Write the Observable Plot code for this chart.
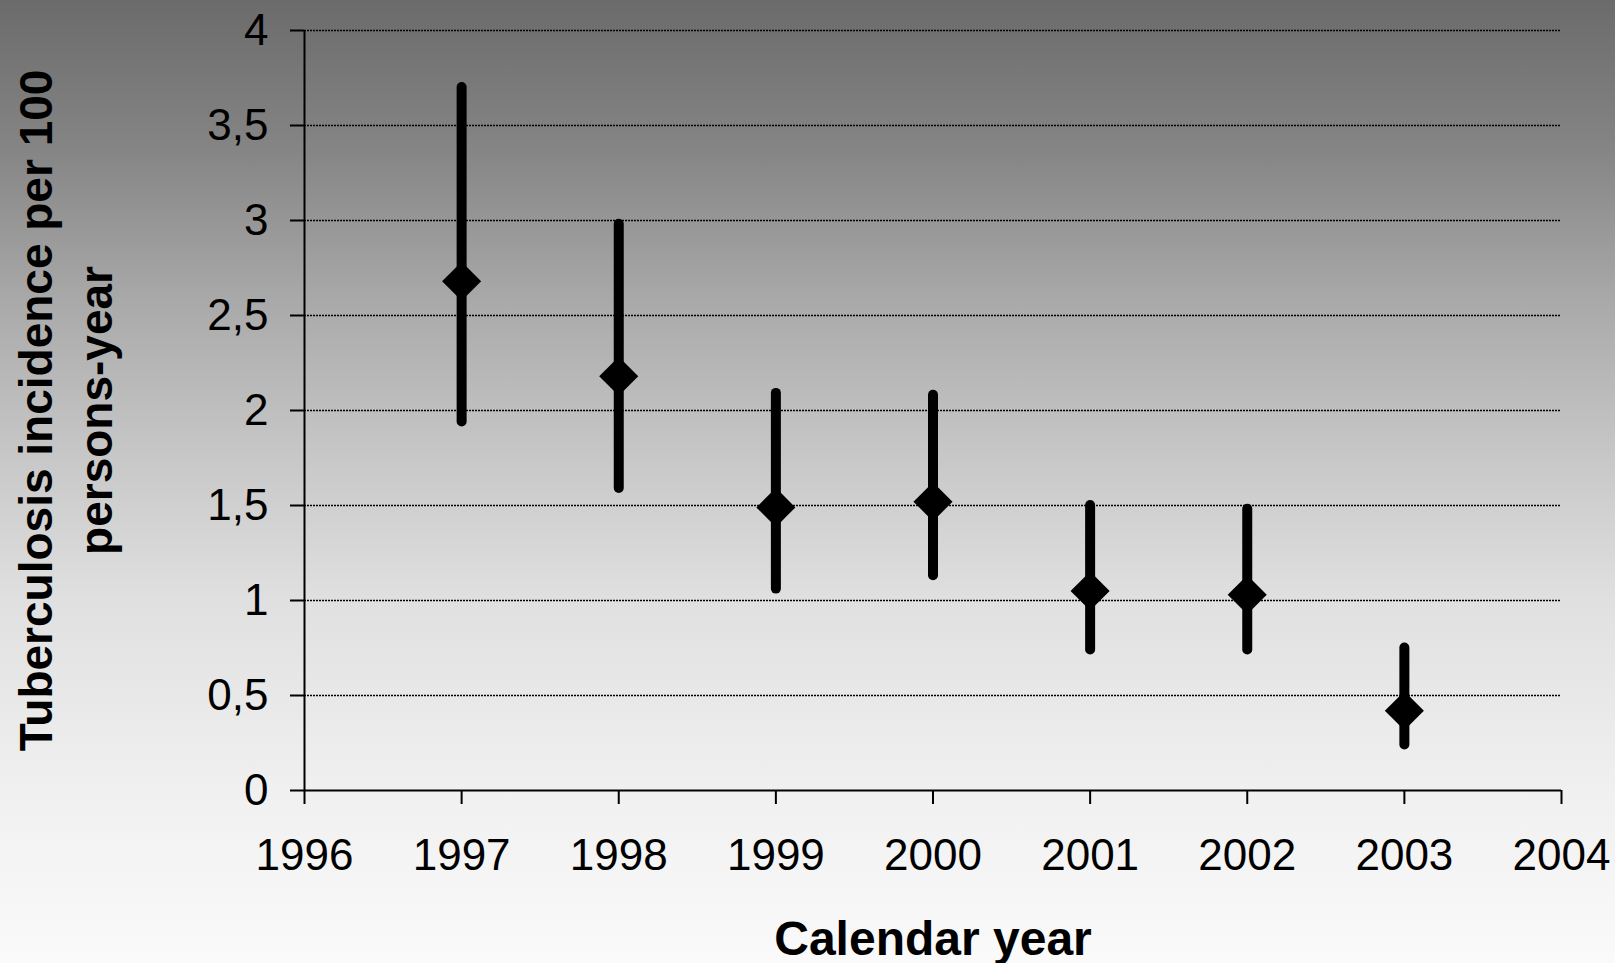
<!DOCTYPE html>
<html>
<head>
<meta charset="utf-8">
<script src="https://cdn.jsdelivr.net/npm/d3@7"></script>
<script src="https://cdn.jsdelivr.net/npm/@observablehq/plot@0.6"></script>
<style>
  html, body { margin: 0; padding: 0; overflow: hidden; }
  #chart {
    width: 1615px; height: 963px;
    background: linear-gradient(to bottom, #6b6b6b 0%, #858585 15.6%, #a9a9a9 31.2%, #c6c6c6 46.7%, #e0e0e0 62.3%, #f0f0f0 82%, #fafafa 100%);
  }
</style>
</head>
<body>
<div id="chart"></div>
<script>
// Data
const years = [1997, 1998, 1999, 2000, 2001, 2002, 2003];
const estimates = [2.68, 2.18, 1.49, 1.52, 1.05, 1.03, 0.42];
const lower = [1.94, 1.59, 1.06, 1.13, 0.74, 0.74, 0.24];
const upper = [3.70, 2.98, 2.09, 2.08, 1.50, 1.48, 0.75];
const xTicks = [1996, 1997, 1998, 1999, 2000, 2001, 2002, 2003, 2004];
const yTicks = [0, 0.5, 1, 1.5, 2, 2.5, 3, 3.5, 4];
const yTitleLines = ["Tuberculosis incidence per 100", "persons-year"];
const xTitle = "Calendar year";

const data = years.map((year, i) => ({year, est: estimates[i], lo: lower[i], hi: upper[i]}));
const font = "'Liberation Sans', Arial, Helvetica, sans-serif";

const chart = Plot.plot({
  width: 1615,
  height: 963,
  marginLeft: 304,
  marginRight: 54,
  marginTop: 30,
  marginBottom: 173,
  style: {background: "transparent", fontFamily: font, color: "#000", overflow: "visible"},
  x: {domain: [1996, 2004]},
  y: {domain: [0, 4]},
  marks: [
    Plot.gridY(yTicks.filter(d => d > 0), {stroke: "#000", strokeOpacity: 1, strokeWidth: 1.5, strokeDasharray: "2,1"}),
    Plot.axisY(yTicks, {
      tickSize: 14, tickPadding: 22, fontSize: 44, strokeWidth: 2, label: null,
      tickFormat: d => String(d).replace(".", ",")
    }),
    Plot.axisX(xTicks, {
      tickSize: 14, tickPadding: 34, fontSize: 44, strokeWidth: 2, label: null,
      tickFormat: d => String(d)
    }),
    Plot.ruleX([1996], {stroke: "#000", strokeWidth: 2}),
    Plot.ruleY([0], {stroke: "#000", strokeWidth: 2}),
    Plot.ruleX(data, {x: "year", y1: "lo", y2: "hi", stroke: "#000", strokeWidth: 10, strokeLinecap: "round"}),
    Plot.dot(data, {x: "year", y: "est", symbol: "diamond2", r: 17.6, fill: "#000", stroke: null}),
    Plot.text([yTitleLines[0]], {text: d => d, frameAnchor: "left", rotate: -90, lineAnchor: "bottom", textAnchor: "middle", dx: -253, fontSize: 46, fontWeight: "bold", fill: "#000"}),
    Plot.text([yTitleLines[1]], {text: d => d, frameAnchor: "left", rotate: -90, lineAnchor: "bottom", textAnchor: "middle", dx: -193, fontSize: 46, fontWeight: "bold", fill: "#000"}),
    Plot.text([xTitle], {text: d => d, frameAnchor: "bottom", lineAnchor: "bottom", textAnchor: "middle", dy: 164, fontSize: 48, fontWeight: "bold", fill: "#000"})
  ]
});
document.getElementById("chart").append(chart);
</script>
</body>
</html>
